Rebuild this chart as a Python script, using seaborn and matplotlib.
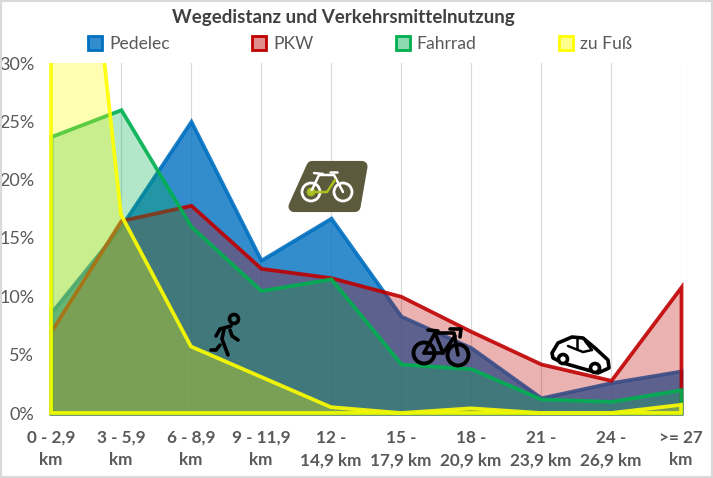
import matplotlib
matplotlib.use('Agg')
import matplotlib.pyplot as plt
from matplotlib.patches import Circle, Patch, Polygon, Rectangle
from matplotlib.colors import to_rgba
import seaborn as sns

categories = ['0 - 2,9\nkm', '3 - 5,9\nkm', '6 - 8,9\nkm', '9 - 11,9\nkm', '12 -\n14,9 km',
              '15 -\n17,9 km', '18 -\n20,9 km', '21 -\n23,9 km', '24 -\n26,9 km', '>= 27\nkm']
pedelec = [8.6, 16.0, 25.0, 13.1, 16.7, 8.3, 5.6, 1.3, 2.6, 3.6]
pkw = [7.0, 16.5, 17.8, 12.4, 11.6, 10.0, 7.0, 4.2, 2.8, 10.8]
fahrrad = [23.7, 26.0, 16.0, 10.5, 11.5, 4.2, 3.8, 1.2, 1.0, 2.0]
zu_fuss = [72.0, 17.0, 5.7, 3.1, 0.5, 0.0, 0.4, 0.0, 0.0, 0.7]
y_ticks = [0, 5, 10, 15, 20, 25, 30]

series = [('Pedelec', pedelec, '#0070C0', 0.8),
          ('PKW', pkw, '#C00000', 0.3),
          ('Fahrrad', fahrrad, '#00B050', 0.3),
          ('zu Fuß', zu_fuss, '#FFFF00', 0.3)]

sns.set_theme(style='white')
plt.rcParams['font.family'] = ['Lato', 'DejaVu Sans']

W, H = 713, 478
fig = plt.figure(figsize=(W / 100, H / 100), dpi=100)
ax = fig.add_axes([51 / W, 1 - 413 / H, 630 / W, 350 / H])
xs = list(range(len(categories)))
lw = 2.7

for name, vals, col, alpha in series:
    poly = ax.fill_between(xs, 0, vals, facecolor=to_rgba(col, alpha),
                           edgecolor=to_rgba(col, 0.9), linewidth=lw, joinstyle='miter', zorder=3)
    # the outline may run over the axes box, only the top is cut off
    poly.set_clip_path(Rectangle((-1, -2), 11, 32, transform=ax.transData))

ax.set_xlim(0, 9)
ax.set_ylim(0, 30)
ax.set_xticks(xs)
ax.set_xticklabels(categories, fontsize=12.3, fontweight='bold', color='#595959', linespacing=1.5)
ax.set_yticks(y_ticks)
ax.set_yticklabels([f'{t}%' for t in y_ticks], fontsize=13, color='#595959')
ax.tick_params(axis='x', length=0, pad=12)
ax.tick_params(axis='y', length=0, pad=12)
ax.grid(axis='x', color='#D9D9D9', lw=0.8)
ax.set_axisbelow(True)
sns.despine(ax=ax, left=True, bottom=True)

handles = [Patch(facecolor=to_rgba(c, max(a, 0.45)), edgecolor=c, lw=2, label=n) for n, _, c, a in series]
fig.legend(handles=handles, ncol=4, loc='center', bbox_to_anchor=(360 / W, 1 - 44 / H), frameon=False,
           fontsize=12.6, labelcolor='#595959', handlelength=0.8, handleheight=0.8,
           handletextpad=0.4, columnspacing=4.7)
fig.text(343 / W, 1 - 17 / H, 'Wegedistanz und Verkehrsmittelnutzung', ha='center', va='center',
         fontsize=13.5, fontweight='bold', color='#404040')

# overlay in reference pixels for the little pictograms and the frame
ov = fig.add_axes([0, 0, 1, 1], facecolor='none')
ov.set_xlim(0, W)
ov.set_ylim(H, 0)
ov.axis('off')
ov.add_patch(Rectangle((0, 0), W, H, fill=False, ec='#D9D9D9', lw=3))


def stroke(points, color='black', width=2.6):
    px, py = zip(*points)
    ov.plot(px, py, color=color, lw=width, solid_capstyle='round', solid_joinstyle='round')


def wheel(x, y, r, color='black', width=2.6, fill='none'):
    ov.add_patch(Circle((x, y), r, fc=fill, ec=color, lw=width))


# walker
wheel(234, 319, 4.5, width=2.6)
stroke([(231, 326), (220, 329), (216, 336)])
stroke([(224, 329), (222, 339), (228, 355)])
stroke([(220, 345), (216, 350), (211, 350)])
stroke([(230, 330), (232, 336), (238, 340)])

# bicycle
wheel(424, 353, 10.5, width=2.8)
wheel(458, 355, 10.5, width=2.8)
stroke([(424, 353), (435, 333), (454, 333), (458, 355)])
stroke([(424, 353), (443, 353), (455, 336)])
stroke([(435, 333), (443, 353)])
stroke([(428, 330), (438, 331)])
stroke([(450, 329), (461, 329), (460, 337)])

# car
car = [(552, 353), (558, 343), (572, 337), (583, 338), (595, 348), (608, 360),
       (609, 368), (598, 373), (563, 363), (553, 358)]
ov.add_patch(Polygon(car, closed=True, fc='none', ec='black', lw=2.6, joinstyle='round'))
stroke([(568, 346), (583, 352), (592, 350), (585, 341)], width=1.8)
stroke([(577, 338), (577, 349)], width=1.8)
wheel(563, 359, 4.5, fill='white')
wheel(595, 368, 4.5, fill='white')

# e-bike badge
badge = [(312, 166.5), (362, 166.5), (355, 206.5), (294, 206.5)]
ov.add_patch(Polygon(badge, closed=True, fc='#5C5A3C', ec='#5C5A3C', lw=8, joinstyle='round'))
wheel(311, 192, 9, color='white', width=2)
wheel(343, 192, 9, color='white', width=2)
wheel(311, 192, 4, color='#A8C020', width=0.5, fill='#A8C020')
stroke([(311, 192), (319, 175), (334, 175), (343, 192)], color='white', width=1.8)
stroke([(311, 192), (327, 192), (335, 180)], color='#A8C020', width=1.8)
stroke([(314, 173), (323, 174)], color='white', width=1.8)
stroke([(330, 172), (337, 172)], color='white', width=1.8)

fig.savefig('out.png', dpi=100)
